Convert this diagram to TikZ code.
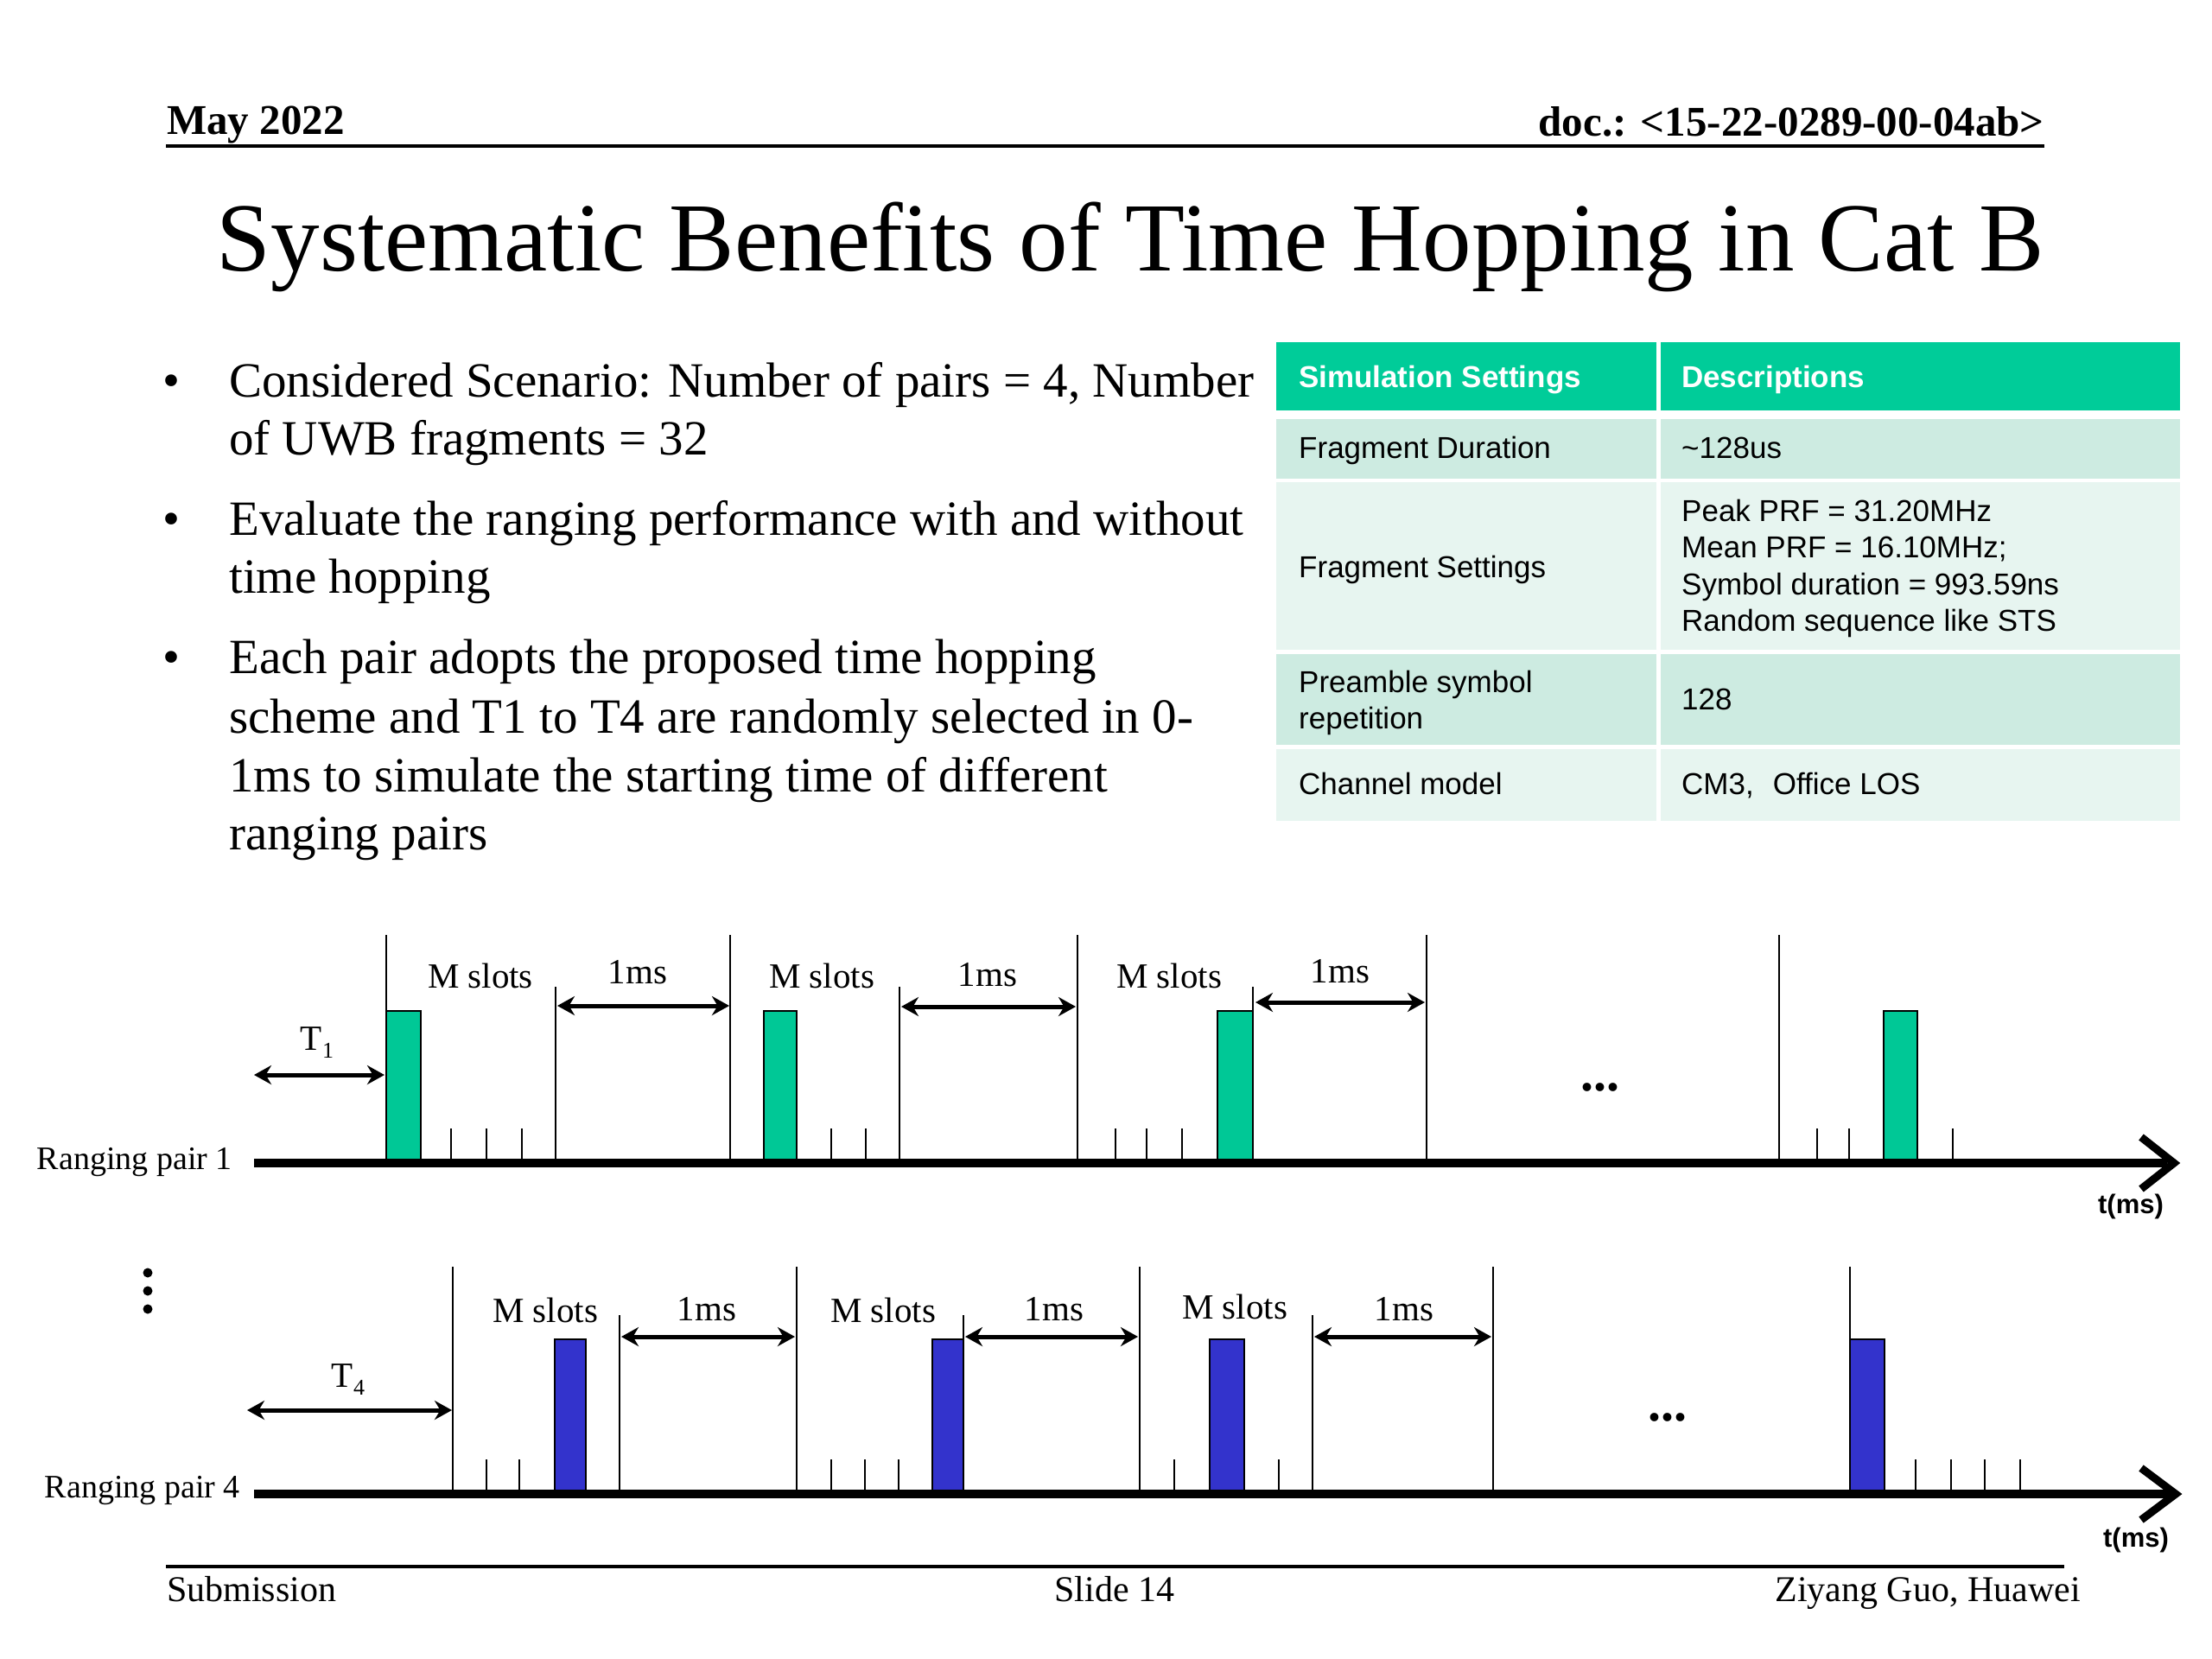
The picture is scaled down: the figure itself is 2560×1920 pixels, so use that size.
\documentclass[tikz,border=0pt]{standalone}
\usepackage{fontspec}
\setmainfont{Liberation Serif}
\newfontfamily\tabfont{Liberation Sans}
\usetikzlibrary{arrows.meta}
\definecolor{pulsegreen}{RGB}{0,200,150}
\definecolor{pulseblue}{RGB}{51,51,204}
\definecolor{hdrgreen}{RGB}{0,204,153}
\definecolor{rowdark}{RGB}{205,235,225}
\definecolor{rowlight}{RGB}{231,245,240}
\newcommand{\fsz}[1]{\fontsize{#1}{#1}\selectfont}
\tikzset{
  vl/.style={line width=2.5pt},
  axisline/.style={line width=10pt},
  chev/.style={line width=9pt, miter limit=10},
  dimarrow/.style={line width=5pt, {Stealth[length=20pt,width=22pt]}-{Stealth[length=20pt,width=22pt]}},
  pulseA/.style={draw=black, line width=2pt, fill=pulsegreen},
  pulseB/.style={draw=black, line width=2pt, fill=pulseblue},
  lbl/.style={font=\fsz{41}, inner sep=0pt, anchor=base},
  bul/.style={font=\fsz{57}, inner sep=0pt, anchor=base west},
  tcell/.style={font=\tabfont\fsz{35}, inner sep=0pt, anchor=base west},
  thead/.style={font=\tabfont\bfseries\fsz{35}, text=white, inner sep=0pt, anchor=base west},
  foot/.style={font=\fsz{42}, inner sep=0pt, anchor=base},
}
\begin{document}
\begin{tikzpicture}[x=1pt,y=-1pt]
\useasboundingbox[fill=white] (0,0) rectangle (2560,1920);

% header
\node[font=\bfseries\fsz{49}, inner sep=0pt, anchor=base west] (hdate) at (193,155) {May 2022};
\node[font=\bfseries\fsz{49}, inner sep=0pt, anchor=base east] (hdoc) at (2366,157) {doc.: <15-22-0289-00-04ab>};
\draw[line width=4pt] (192,169) -- (2366,169);

% title
\node[font=\fsz{113}, inner sep=0pt, anchor=base] (title) at (1308,313) {Systematic Benefits of Time Hopping in Cat B};

% bullets
\node[font=\fsz{57}, inner sep=0pt, anchor=base] (b1) at (198,459) {•};
\node[font=\fsz{57}, inner sep=0pt, anchor=base] (b2) at (198,619) {•};
\node[font=\fsz{57}, inner sep=0pt, anchor=base] (b3) at (198,779) {•};
\node[bul] (l1) at (265,459) {Considered Scenario: Number of pairs = 4, Number};
\node[bul] (l2) at (265,526) {of UWB fragments = 32};
\node[bul] (l3) at (265,619) {Evaluate the ranging performance with and without};
\node[bul] (l4) at (265,686) {time hopping};
\node[bul] (l5) at (265,779) {Each pair adopts the proposed time hopping};
\node[bul] (l6) at (265,848) {scheme and T1 to T4 are randomly selected in 0-};
\node[bul] (l7) at (265,916) {1ms to simulate the starting time of different};
\node[bul] (l8) at (265,983) {ranging pairs};

% table
\fill[hdrgreen] (1477,396) rectangle (1917,475);
\fill[hdrgreen] (1922,396) rectangle (2523,475);
\fill[rowdark] (1477,485) rectangle (1917,554);
\fill[rowdark] (1922,485) rectangle (2523,554);
\fill[rowlight] (1477,558) rectangle (1917,752);
\fill[rowlight] (1922,558) rectangle (2523,752);
\fill[rowdark] (1477,757) rectangle (1917,862);
\fill[rowdark] (1922,757) rectangle (2523,862);
\fill[rowlight] (1477,867) rectangle (1917,950);
\fill[rowlight] (1922,867) rectangle (2523,950);
\node[thead] (h1) at (1503,448) {Simulation Settings};
\node[thead] (h2) at (1946,448) {Descriptions};
\node[tcell] (c11) at (1503,530) {Fragment Duration};
\node[tcell] (c12) at (1946,530) {\textasciitilde128us};
\node[tcell] (c21) at (1503,668) {Fragment Settings};
\node[tcell] (c22a) at (1946,603) {Peak PRF = 31.20MHz};
\node[tcell] (c22b) at (1946,645) {Mean PRF = 16.10MHz;};
\node[tcell] (c22c) at (1946,688) {Symbol duration = 993.59ns};
\node[tcell] (c22d) at (1946,730) {Random sequence like STS};
\node[tcell] (c31a) at (1503,801) {Preamble symbol};
\node[tcell] (c31b) at (1503,843) {repetition};
\node[tcell] (c32) at (1946,821) {128};
\node[tcell] (c41) at (1503,919) {Channel model};
\node[tcell] (c42) at (1946,919) {CM3,\hspace{22pt}Office LOS};

% ---------- Ranging pair 1 ----------
\node[font=\fsz{38}, inner sep=0pt, anchor=base east] (rp1) at (269,1353) {Ranging pair 1};
\foreach \x/\w in {447/487, 884/922, 1409/1450, 2180/2219}
  \draw[pulseA] (\x,1170) rectangle (\w,1342);
\foreach \x in {447, 845, 1247, 1651, 2059}
  \draw[vl] (\x,1082) -- (\x,1346);
\foreach \x in {643, 1041, 1450}
  \draw[vl] (\x,1142) -- (\x,1346);
\foreach \x in {522, 563, 604, 962, 1002, 1291, 1327, 1368, 2103, 2140, 2260}
  \draw[vl] (\x,1306) -- (\x,1346);
\draw[axisline] (294,1346) -- (2508,1346);
\draw[chev] (2478,1316) -- (2516,1346) -- (2478,1376);
\coordinate (t1a) at (294,1244);
\coordinate (t1b) at (445,1244);
\draw[dimarrow] (t1a) -- (t1b);
\draw[dimarrow] (645,1164) -- (844,1164);
\draw[dimarrow] (1043,1165) -- (1245,1165);
\draw[dimarrow] (1453,1160) -- (1649,1160);
\node[lbl] (t1lbl) at (367,1215) {T\raisebox{-9pt}{\fsz{26}1}};
\node[lbl] (m1a) at (556,1143) {M slots};
\node[lbl] (m1b) at (951,1143) {M slots};
\node[lbl] (m1c) at (1353,1143) {M slots};
\node[lbl] (ms1a) at (738,1138) {1ms};
\node[lbl] (ms1b) at (1143,1141) {1ms};
\node[lbl] (ms1c) at (1551,1137) {1ms};
\node[font=\bfseries\fsz{60}, inner sep=0pt, anchor=base] (dots1) at (1852,1262) {...};
\node[font=\tabfont\bfseries\fsz{31}, inner sep=0pt, anchor=base] (tms1) at (2466,1404) {t(ms)};

% vertical dots
\foreach \y in {1473,1494,1515}
  \fill (171,\y) circle (5.5);

% ---------- Ranging pair 4 ----------
\node[font=\fsz{38}, inner sep=0pt, anchor=base east] (rp4) at (278,1733) {Ranging pair 4};
\foreach \x/\w in {642/678, 1079/1115, 1400/1440, 2141/2181}
  \draw[pulseB] (\x,1550) rectangle (\w,1725);
\foreach \x in {524, 922, 1319, 1728, 2141}
  \draw[vl] (\x,1466) -- (\x,1729);
\foreach \x in {717, 1115, 1519}
  \draw[vl] (\x,1522) -- (\x,1729);
\foreach \x in {563, 601, 962, 1001, 1040, 1359, 1480, 2217, 2258, 2297, 2338}
  \draw[vl] (\x,1689) -- (\x,1729);
\draw[axisline] (294,1729) -- (2510,1729);
\draw[chev] (2478,1699) -- (2518,1729) -- (2478,1759);
\coordinate (t4a) at (286,1632);
\coordinate (t4b) at (523,1632);
\draw[dimarrow] (t4a) -- (t4b);
\draw[dimarrow] (719,1547) -- (920,1547);
\draw[dimarrow] (1117,1547) -- (1317,1547);
\draw[dimarrow] (1521,1547) -- (1726,1547);
\node[lbl] (t4lbl) at (403,1605) {T\raisebox{-9pt}{\fsz{26}4}};
\node[lbl] (m4a) at (631,1530) {M slots};
\node[lbl] (m4b) at (1022,1530) {M slots};
\node[lbl] (m4c) at (1429,1526) {M slots};
\node[lbl] (ms4a) at (818,1528) {1ms};
\node[lbl] (ms4b) at (1220,1528) {1ms};
\node[lbl] (ms4c) at (1625,1528) {1ms};
\node[font=\bfseries\fsz{60}, inner sep=0pt, anchor=base] (dots4) at (1930,1644) {...};
\node[font=\tabfont\bfseries\fsz{31}, inner sep=0pt, anchor=base] (tms4) at (2472,1790) {t(ms)};

% footer
\draw[line width=4pt] (192,1813) -- (2389,1813);
\node[foot, anchor=base west] (fsub) at (193,1853) {Submission};
\node[foot] (fslide) at (1290,1853) {Slide 14};
\node[foot, anchor=base east] (fauth) at (2408,1853) {Ziyang Guo, Huawei};
\end{tikzpicture}
\end{document}
